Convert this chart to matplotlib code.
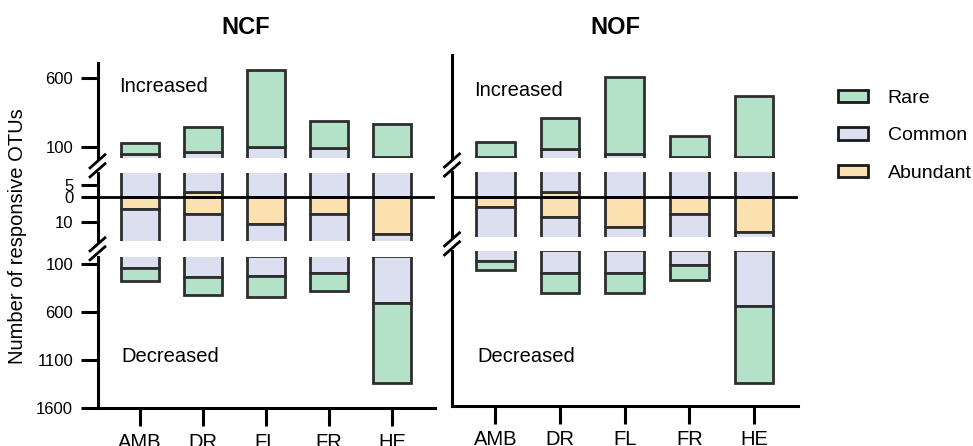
import matplotlib
matplotlib.use("Agg")
import matplotlib.pyplot as plt
from matplotlib.patches import Patch
from matplotlib.lines import Line2D

plt.rcParams['font.family'] = ['Liberation Sans', 'DejaVu Sans']

# -----------------------------
# Data (counts of responsive OTUs)
# -----------------------------
sites = ['AMB', 'DR', 'FL', 'FR', 'HE']
classes = ['Rare', 'Common', 'Abundant']

ncf_up_abundant = [0, 2, 0, 0, 0]
ncf_up_common = [47, 62, 96, 92, 28]
ncf_up_rare = [78, 182, 562, 193, 237]
ncf_down_abundant = [5, 7, 11, 7, 15]
ncf_down_common = [137, 222, 211, 180, 491]
ncf_down_rare = [132, 191, 215, 188, 834]

nof_up_abundant = [0, 2, 0, 0, 0]
nof_up_common = [28, 79, 47, 28, 22]
nof_up_rare = [104, 231, 560, 150, 451]
nof_down_abundant = [4, 8, 12, 7, 14]
nof_down_common = [118, 239, 235, 156, 567]
nof_down_rare = [92, 198, 198, 153, 781]

colors = {'Rare': '#b3e2c8', 'Common': '#dcdfef', 'Abundant': '#fbe1b0'}
edge = '#2e2e2e'

W, H = 973, 446
fig = plt.figure(figsize=(W / 100, H / 100), dpi=100)


def px_axes(x0, x1, y0, y1):
    return fig.add_axes([x0 / W, 1 - y1 / H, (x1 - x0) / W, (y1 - y0) / H])


def px_line(xs, ys):
    fig.add_artist(Line2D([x / W for x in xs], [1 - y / H for y in ys],
                          color='black', lw=2.0, solid_capstyle='butt'))


def draw_bars(ax, up, down):
    x = range(len(sites))
    ab, co, ra = up
    bot_c = list(ab)
    bot_r = [a + c for a, c in zip(ab, co)]
    kw = dict(width=0.6, edgecolor=edge, linewidth=2.0)
    ax.bar(x, ab, color=colors['Abundant'], **kw)
    ax.bar(x, co, bottom=bot_c, color=colors['Common'], **kw)
    ax.bar(x, ra, bottom=bot_r, color=colors['Rare'], **kw)
    ab, co, ra = down
    nab = [-v for v in ab]
    nco = [-v for v in co]
    nra = [-v for v in ra]
    bot_r = [-(a + c) for a, c in zip(ab, co)]
    ax.bar(x, nab, color=colors['Abundant'], **kw)
    ax.bar(x, nco, bottom=nab, color=colors['Common'], **kw)
    ax.bar(x, nra, bottom=bot_r, color=colors['Rare'], **kw)


def draw_panel(x0, x1, segs, lims, up, down, labels, zero_start):
    axes = []
    for i, ((y0, y1), lim) in enumerate(zip(segs, lims)):
        ax = px_axes(x0, x1, y0, y1)
        draw_bars(ax, up, down)
        ax.set_xlim(-0.67, 4.68)
        ax.set_ylim(*lim)
        for s in ['top', 'right']:
            ax.spines[s].set_visible(False)
        ax.spines['left'].set_linewidth(2.2)
        ax.spines['bottom'].set_linewidth(2.2)
        if i < 2:
            ax.spines['bottom'].set_visible(False)
            ax.set_xticks([])
        else:
            ax.set_xticks(range(len(sites)))
            ax.set_xticklabels(sites, fontsize=14.5)
            ax.tick_params(axis='x', length=13, width=2.2, pad=4.5)
        ax.tick_params(axis='y', length=12.5, width=2.2, labelsize=12, pad=5)
        axes.append(ax)
    top, mid, bot = axes
    if labels:
        top.set_yticks([100, 600])
        top.set_yticklabels(['100', '600'])
        mid.set_yticks([5, 0, -10])
        mid.set_yticklabels(['5', '0', '10'])
        bot.set_yticks([-100, -600, -1100, -1600])
        bot.set_yticklabels(['100', '600', '1100', '1600'])
    else:
        for ax in axes:
            ax.set_yticks([])
    xmin = (zero_start - x0) / (x1 - x0)
    mid.axhline(0, xmin=xmin, xmax=0.995, color='black', lw=2.0,
                zorder=5, clip_on=False)
    # break marks on the y axis
    for (ya, yb) in [(segs[0][1], segs[1][0]), (segs[1][1], segs[2][0])]:
        yc = (ya + yb) / 2
        for d in (-4.5, 4.5):
            px_line([x0 - 8.5, x0 + 8.5], [yc + d + 7.5, yc + d - 7.5])
    return axes


# left panel: NCF
draw_panel(97.5, 435,
           [(63.3, 158.3), (173.3, 241.0), (256.7, 408.3)],
           [(15, 710), (-17.9, 9.8), (-1600, -20)],
           (ncf_up_abundant, ncf_up_common, ncf_up_rare),
           (ncf_down_abundant, ncf_down_common, ncf_down_rare),
           True, 85)

# right panel: NOF
draw_panel(452, 798,
           [(55.0, 158.3), (171.7, 236.7), (251.0, 406.0)],
           [(15, 770), (-16, 10), (-1600, -20)],
           (nof_up_abundant, nof_up_common, nof_up_rare),
           (nof_down_abundant, nof_down_common, nof_down_rare),
           False, 452)

# titles and annotations
fig.text(245.7 / W, 1 - 27 / H, 'NCF', fontsize=17, fontweight='bold',
         ha='center', va='center')
fig.text(615 / W, 1 - 27 / H, 'NOF', fontsize=17, fontweight='bold',
         ha='center', va='center')
fig.text(119 / W, 1 - 86 / H, 'Increased', fontsize=14.5, va='center')
fig.text(474 / W, 1 - 90 / H, 'Increased', fontsize=14.5, va='center')
fig.text(121 / W, 1 - 357 / H, 'Decreased', fontsize=14.5, va='center')
fig.text(477 / W, 1 - 357 / H, 'Decreased', fontsize=14.5, va='center')
fig.text(18 / W, 1 - 236 / H, 'Number of responsive OTUs', fontsize=14.5,
         rotation=90, ha='center', va='center')

# legend
handles = [Patch(facecolor=colors[c], edgecolor='#1a1a1a', linewidth=2.0)
           for c in classes]
fig.legend(handles, classes, loc='upper left',
           bbox_to_anchor=(838 / W, 1 - 90 / H), frameon=False,
           fontsize=14, handlelength=1.55, handleheight=0.6,
           handletextpad=1.0, labelspacing=1.05, borderpad=0,
           borderaxespad=0)

fig.savefig('out.png', dpi=100)
